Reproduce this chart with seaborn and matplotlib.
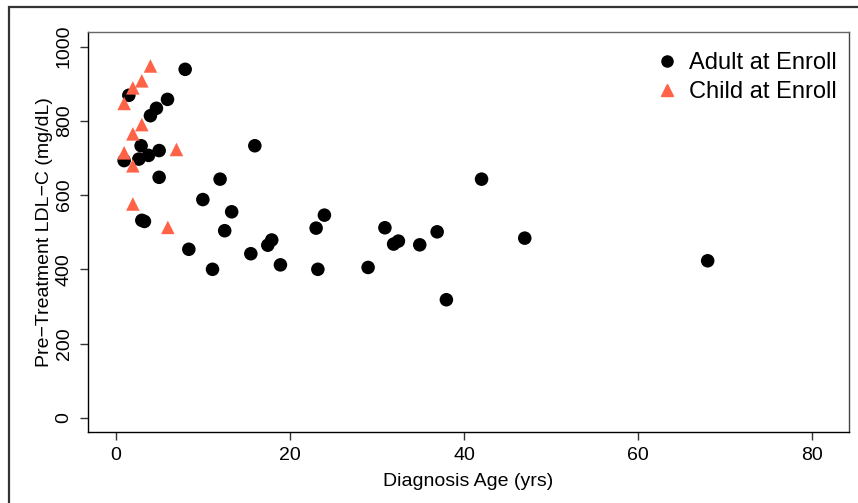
import matplotlib
matplotlib.use("Agg")
import matplotlib.pyplot as plt
import seaborn as sns
import pandas as pd
from matplotlib.patches import Rectangle
from matplotlib.lines import Line2D

adult_age = [7.96, 1.49, 5.93, 4.66, 3.97, 2.9, 4.97, 3.75, 2.64, 0.95, 4.97, 11.97,
             9.99, 13.3, 12.5, 2.98, 3.28, 8.38, 11.1, 15.5, 15.96, 23.95, 23.0, 17.9,
             17.45, 18.9, 23.2, 42.0, 30.9, 36.9, 32.45, 31.9, 34.9, 46.96, 67.97,
             28.97, 37.96]
adult_ldl = [939, 869, 858, 834, 814, 733, 720, 707, 697, 693, 648, 643,
             588, 555, 504, 532, 529, 454, 400, 442, 733, 546, 511, 479,
             465, 412, 400, 643, 512, 501, 476, 468, 466, 484, 423,
             405, 318]
child_age = [3.97, 2.98, 1.95, 0.95, 2.98, 1.95, 0.95, 6.96, 1.95, 1.95, 5.97]
child_ldl = [948, 908, 889, 847, 790, 765, 714, 723, 679, 576, 513]
groups = ["Adult at Enroll", "Child at Enroll"]
x_ticks = [0, 20, 40, 60, 80]
y_ticks = [0, 200, 400, 600, 800, 1000]

df = pd.DataFrame({
    "age": adult_age + child_age,
    "ldl": adult_ldl + child_ldl,
    "group": [groups[0]] * len(adult_age) + [groups[1]] * len(child_age),
})

sns.set_style("white")
plt.rcParams["font.family"] = ["Liberation Sans", "DejaVu Sans"]
plt.rcParams["text.color"] = "black"
plt.rcParams["axes.labelcolor"] = "black"
plt.rcParams["xtick.color"] = "black"
plt.rcParams["ytick.color"] = "black"

fig = plt.figure(figsize=(8.58, 5.03), dpi=100)
ax = fig.add_axes([88/858, 1-432/503, (849-88)/858, (432-32)/503])

colors = {groups[0]: "black", groups[1]: "#FF6347"}
markers = {groups[0]: "o", groups[1]: "^"}
sns.scatterplot(data=df, x="age", y="ldl", hue="group", style="group",
                palette=colors, markers=markers, s=95, linewidth=0,
                ax=ax, legend=False, zorder=3)

ax.set_xlim(-3.2, 84.2)
ax.set_ylim(-38.5, 1039.6)
ax.set_xticks(x_ticks)
ax.set_yticks(y_ticks)
ax.set_xticklabels([str(t) for t in x_ticks], fontsize=14)
ax.set_yticklabels([str(t) for t in y_ticks], fontsize=14, rotation=90, va="center")
ax.tick_params(axis="both", direction="out", length=6, width=1, color="#333333",
               labelcolor="black", bottom=True, left=True, pad=5)
ax.set_xlabel("Diagnosis Age (yrs)", fontsize=14, labelpad=6, color="black")
ax.set_ylabel("Pre\u2212Treatment LDL\u2212C (mg/dL)", fontsize=14, labelpad=2,
              color="black")
for sp in ax.spines.values():
    sp.set_visible(True)
    sp.set_color("black")
    sp.set_linewidth(1)
ax.spines["top"].set_color("#666666")
ax.spines["right"].set_color("#444444")

handles = [Line2D([], [], marker="o", color="black", linestyle="none", markersize=8),
           Line2D([], [], marker="^", color="#FF6347", linestyle="none", markersize=9)]
leg = ax.legend(handles, groups, loc="upper right", frameon=False, fontsize=17,
                handletextpad=0.35, labelspacing=0.3, borderaxespad=0.1,
                handlelength=1.2, bbox_to_anchor=(1.0, 0.98))
for t in leg.get_texts():
    t.set_color("black")

fig.patches.append(Rectangle((9/858, -0.5), 2.0, 0.5 + (503-7)/503,
                             transform=fig.transFigure, fill=False,
                             edgecolor="#333333", linewidth=1.6))

fig.savefig("out.png", dpi=100)
